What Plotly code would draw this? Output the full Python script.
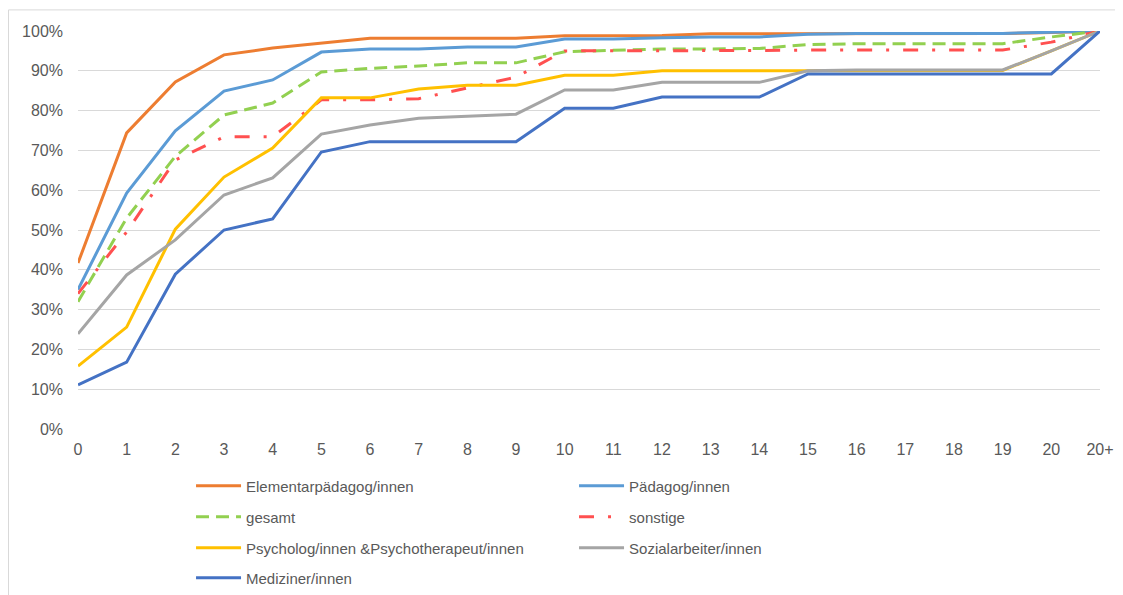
import plotly.graph_objects as go

categories = [str(i) for i in range(21)] + ["20+"]

elementar = [41.7, 74.4, 87.2, 94.0, 95.7, 97.0, 98.2, 98.2, 98.2, 98.2, 98.8, 98.8, 98.9, 99.3, 99.3, 99.4, 99.4, 99.4, 99.4, 99.4, 99.6, 100]
paedagog = [35.0, 59.3, 74.9, 84.9, 87.7, 94.7, 95.5, 95.5, 96.0, 96.0, 98.0, 98.0, 98.3, 98.5, 98.5, 99.2, 99.4, 99.4, 99.4, 99.4, 99.7, 100]
gesamt = [32.0, 53.0, 68.5, 78.9, 81.9, 89.7, 90.6, 91.2, 92.0, 92.0, 94.8, 95.2, 95.5, 95.5, 95.6, 96.6, 96.8, 96.8, 96.8, 96.8, 98.5, 100]
sonstige = [34.0, 49.5, 67.6, 73.4, 73.4, 82.7, 82.7, 83.0, 85.7, 88.4, 95.0, 95.0, 95.1, 95.1, 95.1, 95.2, 95.2, 95.2, 95.2, 95.2, 97.2, 100]
psycholog = [15.8, 25.6, 50.2, 63.3, 70.6, 83.2, 83.2, 85.4, 86.4, 86.4, 88.9, 88.9, 90.0, 90.0, 90.0, 90.1, 90.1, 90.1, 90.1, 90.1, 95.0, 100]
sozial = [23.9, 38.7, 47.5, 58.8, 63.1, 74.1, 76.4, 78.1, 78.6, 79.1, 85.2, 85.2, 87.1, 87.1, 87.1, 90.0, 90.2, 90.2, 90.2, 90.2, 95.0, 100]
mediziner = [11.1, 16.8, 38.9, 50.0, 52.8, 69.6, 72.2, 72.2, 72.2, 72.2, 80.6, 80.6, 83.4, 83.4, 83.4, 89.2, 89.2, 89.2, 89.2, 89.2, 89.2, 100]

series = [
    ("Elementarpädagog/innen", elementar, "#ED7D31", "solid", "legend"),
    ("Pädagog/innen", paedagog, "#5B9BD5", "solid", "legend"),
    ("gesamt", gesamt, "#92D050", "13px,7px", "legend2"),
    ("sonstige", sonstige, "#FF5050", "15px,14px,3px,14px", "legend2"),
    ("Psycholog/innen &Psychotherapeut/innen", psycholog, "#FFC000", "solid", "legend3"),
    ("Sozialarbeiter/innen", sozial, "#A5A5A5", "solid", "legend3"),
    ("Mediziner/innen", mediziner, "#4472C4", "solid", "legend4"),
]

fig = go.Figure()
for name, vals, color, dash, leg in series:
    fig.add_trace(go.Scatter(
        x=categories, y=[v / 100 for v in vals], name=name, mode="lines",
        line=dict(color=color, width=3, dash=dash), legend=leg,
    ))

font_family = "Liberation Sans, Arial, sans-serif"
legend_common = dict(orientation="h", x=0.1106, xanchor="left", yanchor="middle",
                     entrywidth=323, entrywidthmode="pixels", itemwidth=45,
                     font=dict(size=15, color="#595959"), bgcolor="rgba(0,0,0,0)")
rows_y = [-0.1432, -0.2211, -0.299, -0.3744]

fig.update_layout(
    width=1115, height=587,
    margin=dict(l=70, r=23, t=23, b=166, autoexpand=False),
    paper_bgcolor="white", plot_bgcolor="white",
    font=dict(family=font_family, size=16, color="#595959"),
    xaxis=dict(type="category", range=[0, 21], showgrid=False, showline=False,
               ticks="", ticklabelstandoff=9, automargin=False,
               tickfont=dict(size=16, color="#595959"), zeroline=False),
    yaxis=dict(range=[0, 1], dtick=0.1, tickformat=".0%", showgrid=True,
               gridcolor="#D9D9D9", gridwidth=1, zeroline=False, showline=False,
               ticks="", ticklabelstandoff=14, automargin=False,
               tickfont=dict(size=16, color="#595959")),
    legend=dict(legend_common, y=rows_y[0]),
    legend2=dict(legend_common, y=rows_y[1]),
    legend3=dict(legend_common, y=rows_y[2]),
    legend4=dict(legend_common, y=rows_y[3]),
    shapes=[dict(type="rect", xref="paper", yref="paper",
                 x0=-0.068, x1=1.1, y0=-0.5, y1=1.053,
                 line=dict(color="#D9D9D9", width=1), layer="below")],
)

fig.write_html("out.html")
